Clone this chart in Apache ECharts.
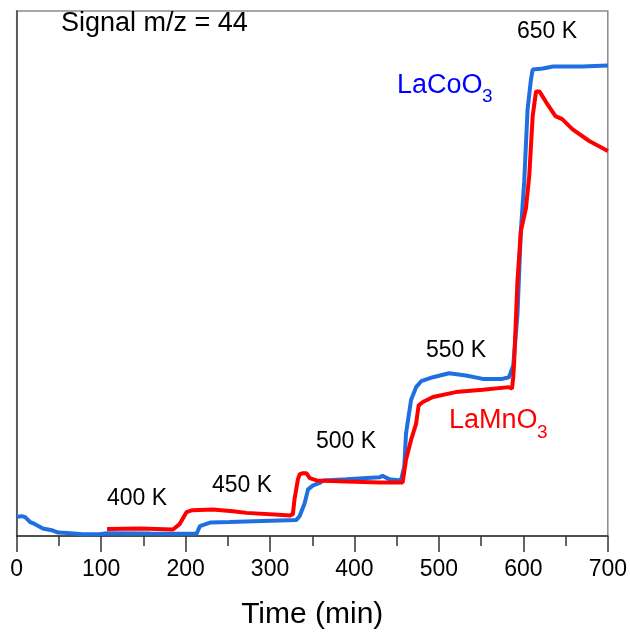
<!DOCTYPE html>
<html>
<head>
<meta charset="utf-8">
<script src="https://cdn.jsdelivr.net/npm/echarts@6/dist/echarts.min.js"></script>
<style>html,body{margin:0;padding:0;background:#fff}#c{width:630px;height:635px}</style>
</head>
<body>
<div id="c"></div>
<script>
// LaCoO3 signal (a.u.) vs time (min)
var timeCo = [0,6,10,16,19,31,43,49,60,78,98,107,158,213,217,223,229,252,291,331,335,341,345,351,359,363,390,430,433,441,455,459,461,467,473,479,493,512,532,552,575,583,585,588,593,597,601,605,609,611,623,635,650,670,700];
var sigCo  = [19.5,20,19,14,13,7.5,5.5,3.5,3,1.8,1.7,2.8,2.5,2.3,10,11.7,13.5,14,15,16,20,33,47,51,53.5,56,57.3,59.3,60.7,57.3,56,70,103,137,150,156,160,164,161.7,158.3,158.3,160,158,172,223,307,357,430,460,470,471,473,473,473,474];
// LaMnO3 signal (a.u.) vs time (min)
var timeMn = [107,146,185,187,193,201,208,232,256,272,320,323,327,329,333,335,339,343,347,355,390,430,457,461,467,473,476,481,493,520,552,583,586.5,588,589,593,597,603,607,611,615,619,627,638,646,658,678,700];
var sigMn  = [7,7.5,6.5,6.5,12,24,26,26.7,25,23.3,21,20.5,22,37,57,62,63.3,63.3,58.3,56,55,54,54,76.7,96.7,113.3,131.7,135,140,145,147.3,150,148.3,160,173,257,307,330,363,423,448,448,437,423,420,410,398,388];
var xTicks = [0,100,200,300,400,500,600,700];
var tempLabels = ['400 K','450 K','500 K','550 K','650 K'];

function pairs(xs, ys){ return xs.map(function(x,i){ return [x, ys[i]]; }); }

var FONT = '"Liberation Sans", Arial, sans-serif';
var chart = echarts.init(document.getElementById('c'), null, {renderer:'canvas'});
chart.setOption({
  animation: false,
  backgroundColor: '#fff',
  grid: {left: 16.7, right: 21.5, top: 11, bottom: 95, show: true, borderColor: '#8a8a8a', borderWidth: 1.5},
  xAxis: {
    type: 'value', min: 0, max: 700, interval: 100,
    name: 'Time (min)', nameLocation: 'middle', nameGap: 64,
    nameTextStyle: {fontFamily: FONT, fontSize: 30, color: '#000'},
    axisLine: {show: true, onZero: false, lineStyle: {color: '#333', width: 1.5}},
    axisTick: {show: true, inside: false, length: 16, lineStyle: {color: '#333', width: 1.5}},
    minorTick: {show: true, splitNumber: 2, length: 10, lineStyle: {color: '#333', width: 1.5}},
    axisLabel: {fontFamily: FONT, fontSize: 23, color: '#000', margin: 22,
      formatter: function(v){ return xTicks.indexOf(v) >= 0 ? String(v) : ''; }},
    splitLine: {show: false}
  },
  yAxis: {
    type: 'value', min: 0, max: 529,
    axisLine: {show: true, lineStyle: {color: '#444', width: 1.5}},
    axisTick: {show: false}, axisLabel: {show: false}, splitLine: {show: false}
  },
  series: [
    {name: 'LaCoO3', type: 'line', data: pairs(timeCo, sigCo), showSymbol: false, symbol: 'none',
     lineStyle: {color: '#1f6fe0', width: 4}, z: 2},
    {name: 'LaMnO3', type: 'line', data: pairs(timeMn, sigMn), showSymbol: false, symbol: 'none',
     lineStyle: {color: '#ff0000', width: 4}, z: 3}
  ],
  graphic: [
    {type: 'text', left: 61, top: 10, style: {text: 'Signal m/z = 44', font: '27px ' + FONT, fill: '#000'}},
    {type: 'text', x: 137, y: 499, style: {text: tempLabels[0], font: '23px ' + FONT, fill: '#000', align: 'center', verticalAlign: 'middle'}},
    {type: 'text', x: 242, y: 486, style: {text: tempLabels[1], font: '23px ' + FONT, fill: '#000', align: 'center', verticalAlign: 'middle'}},
    {type: 'text', x: 346, y: 442, style: {text: tempLabels[2], font: '23px ' + FONT, fill: '#000', align: 'center', verticalAlign: 'middle'}},
    {type: 'text', x: 456, y: 351, style: {text: tempLabels[3], font: '23px ' + FONT, fill: '#000', align: 'center', verticalAlign: 'middle'}},
    {type: 'text', x: 547, y: 32, style: {text: tempLabels[4], font: '23px ' + FONT, fill: '#000', align: 'center', verticalAlign: 'middle'}},
    {type: 'text', x: 397, y: 86, style: {text: 'LaCoO', font: '27px ' + FONT, fill: '#0000ff', align: 'left', verticalAlign: 'middle'}},
    {type: 'text', x: 482, y: 97, style: {text: '3', font: '19px ' + FONT, fill: '#0000ff', align: 'left', verticalAlign: 'middle'}},
    {type: 'text', x: 449, y: 421, style: {text: 'LaMnO', font: '27px ' + FONT, fill: '#ff0000', align: 'left', verticalAlign: 'middle'}},
    {type: 'text', x: 537, y: 433, style: {text: '3', font: '19px ' + FONT, fill: '#ff0000', align: 'left', verticalAlign: 'middle'}}
  ]
});
</script>
</body>
</html>
